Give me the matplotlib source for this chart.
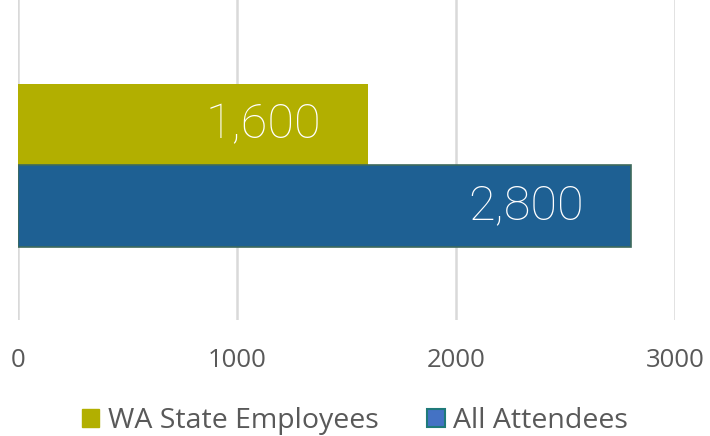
import matplotlib.pyplot as plt
from matplotlib.patches import Patch

# data
series = ["WA State Employees", "All Attendees"]
values = [1600, 2800]
positions = [1, 0]
bar_colors = ["#b2af00", "#1e6093"]
value_labels = ["1,600", "2,800"]
xticks = [0, 1000, 2000, 3000]

fig = plt.figure(figsize=(7.10, 4.36), dpi=100)
ax = fig.add_axes([18 / 710, 1 - 320 / 436, (675 - 18) / 710, 320 / 436])

ax.barh(positions[0], values[0], height=1.0, color=bar_colors[0], zorder=2)
ax.barh(positions[1], values[1], height=1.0, color=bar_colors[1],
        edgecolor="#3e6a5c", linewidth=1.2, zorder=2)

for p, v, lab in zip(positions, values, value_labels):
    ax.annotate(lab, xy=(v, p), xytext=(-34, 0), textcoords="offset points",
                ha="right", va="center", color="white", fontsize=35,
                family=["Roboto", "DejaVu Sans"], fontweight="light", zorder=3)

ax.set_xlim(0, 3000)
ax.set_ylim(-1.396, 2.53)
ax.set_xticks(xticks)
ax.set_xticklabels([str(t) for t in xticks], fontsize=18.5, color="#595959",
                   family=["Open Sans", "DejaVu Sans"])
ax.set_yticks([])
ax.tick_params(axis="x", length=0, pad=20)
ax.grid(axis="x", color="#d9d9d9", linewidth=1.8, zorder=0)
for s in ax.spines.values():
    s.set_visible(False)

handles = [Patch(facecolor="#b2af00", edgecolor="#b2af00"),
           Patch(facecolor="#4472c4", edgecolor="#1f7a7a", linewidth=1.5)]
fig.legend(handles, series, loc="center", bbox_to_anchor=(0.5, 1 - 421 / 436),
           ncol=2, frameon=False, handlelength=0.62, handleheight=0.62,
           handletextpad=0.3, columnspacing=1.7,
           prop={"family": ["Open Sans", "DejaVu Sans"], "size": 20.5},
           labelcolor="#595959")

fig.savefig("out.png", dpi=100)
